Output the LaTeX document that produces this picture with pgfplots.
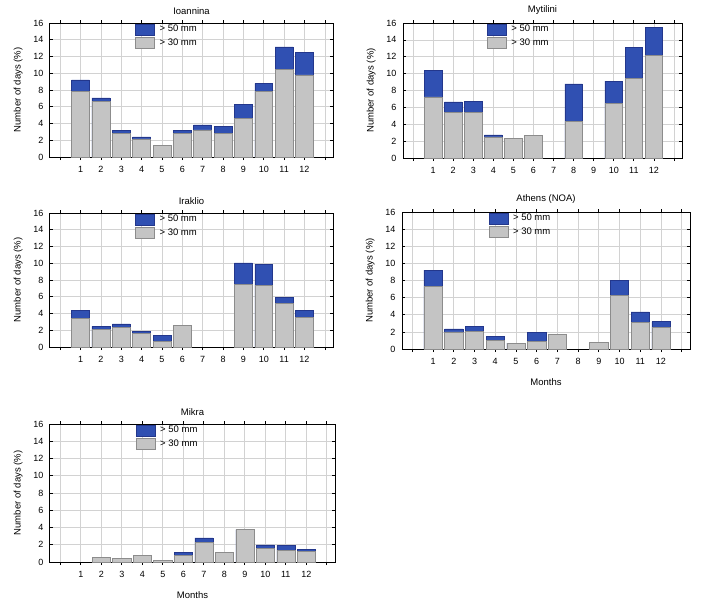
\documentclass[border=0pt]{standalone}
\usepackage{fontspec}
\setmainfont{Liberation Sans}
\usepackage{pgfplots}
\pgfplotsset{compat=1.18}
\definecolor{barblue}{RGB}{48,80,178}
\definecolor{bluedraw}{RGB}{35,55,140}
\definecolor{bargray}{RGB}{196,196,196}
\definecolor{graydraw}{RGB}{140,140,140}
\definecolor{gridc}{RGB}{210,210,210}
\pgfplotsset{
 swatch/.style={legend image code/.code={\draw[##1] (0pt,-5.5pt) rectangle (19pt,5.5pt);}},
 panel/.style={
  scale only axis,
  xmin=-0.5, xmax=13.4, ymin=0, ymax=16,
  xtick={0,...,13}, xticklabels={,1,2,3,4,5,6,7,8,9,10,11,12,},
  ytick={0,2,...,16},
  grid=major, major grid style={gridc, line width=0.7pt},
  tick align=inside, major tick length=3pt, tick style={black, line width=0.7pt},
  axis line style={line width=1pt},
  ybar, bar width=0.88, bar shift=0pt,
  tick label style={font=\fontsize{9}{10}\selectfont},
  xticklabel style={yshift=-3pt},
  yticklabel style={xshift=-3pt},
  /pgf/number format/assume math mode=true,
  ylabel={Number of days (\%)},
  ylabel style={font=\fontsize{9.5}{10}\selectfont, yshift=4pt},
  xlabel style={font=\fontsize{9.5}{10}\selectfont, yshift=-7pt},
  title style={font=\fontsize{9.5}{10}\selectfont, yshift=-1pt},
  legend style={at={(0.30,1)}, anchor=north west, draw=none, fill=none, inner sep=0pt,
    font=\fontsize{9.5}{10}\selectfont, row sep=1.5pt,
    /tikz/every odd column/.append style={column sep=3pt}},
  legend cell align=left,
 },
 bblue/.style={fill=barblue, draw=bluedraw, line width=0.5pt, swatch},
 bgray/.style={fill=bargray, draw=graydraw, line width=0.5pt, swatch},
}
\begin{document}
\begin{tikzpicture}
\path[use as bounding box] (0pt,0pt) rectangle (704pt,-603pt);
% Ioannina
\begin{axis}[panel, width=283pt, height=134pt, at={(50pt,-157pt)}, anchor=south west, title={Ioannina}]
\addplot[bblue] coordinates {(1,9.2) (2,7.05) (3,3.15) (4,2.4) (5,1.4) (6,3.15) (7,3.85) (8,3.7) (9,6.3) (10,8.8) (11,13.15) (12,12.5)};
\addplot[bgray] coordinates {(1,7.8) (2,6.6) (3,2.85) (4,2.15) (5,1.4) (6,2.85) (7,3.25) (8,2.85) (9,4.65) (10,7.8) (11,10.45) (12,9.8)};
\legend{> 50 mm, > 30 mm}
\end{axis}
% Mytilini
\begin{axis}[panel, width=279pt, height=135pt, at={(403pt,-158pt)}, anchor=south west, title={Mytilini}]
\addplot[bblue] coordinates {(1,10.4) (2,6.65) (3,6.75) (4,2.75) (5,2.35) (6,2.7) (8,8.8) (10,9.1) (11,13.15) (12,15.45)};
\addplot[bgray] coordinates {(1,7.25) (2,5.45) (3,5.45) (4,2.5) (5,2.35) (6,2.7) (8,4.3) (10,6.5) (11,9.4) (12,12.2)};
\legend{> 50 mm, > 30 mm}
\end{axis}
% Iraklio
\begin{axis}[panel, width=283pt, height=134pt, at={(50pt,-347pt)}, anchor=south west, title={Iraklio}]
\addplot[bblue] coordinates {(1,4.35) (2,2.45) (3,2.75) (4,1.9) (5,1.4) (6,2.55) (9,10.05) (10,9.9) (11,5.95) (12,4.35)};
\addplot[bgray] coordinates {(1,3.45) (2,2.15) (3,2.35) (4,1.65) (5,0.65) (6,2.55) (9,7.5) (10,7.4) (11,5.25) (12,3.5)};
\legend{> 50 mm, > 30 mm}
\end{axis}
% Athens
\begin{axis}[panel, width=288pt, height=137pt, at={(402pt,-349pt)}, anchor=south west, title={Athens (NOA)}, xlabel={Months}]
\addplot[bblue] coordinates {(1,9.2) (2,2.35) (3,2.6) (4,1.5) (5,0.7) (6,1.95) (7,1.7) (9,0.75) (10,8.05) (11,4.35) (12,3.2)};
\addplot[bgray] coordinates {(1,7.3) (2,2.0) (3,2.05) (4,1.05) (5,0.7) (6,0.9) (7,1.7) (9,0.75) (10,6.3) (11,3.1) (12,2.55)};
\legend{> 50 mm, > 30 mm}
\end{axis}
% Mikra
\begin{axis}[panel, width=285pt, height=138pt, at={(50pt,-562pt)}, anchor=south west, title={Mikra}, xlabel={Months}]
\addplot[bblue] coordinates {(2,0.55) (3,0.45) (4,0.75) (5,0.15) (6,1.1) (7,2.8) (8,1.15) (9,3.75) (10,2.0) (11,1.95) (12,1.45)};
\addplot[bgray] coordinates {(2,0.55) (3,0.45) (4,0.75) (5,0.15) (6,0.8) (7,2.3) (8,1.15) (9,3.75) (10,1.55) (11,1.35) (12,1.2)};
\legend{> 50 mm, > 30 mm}
\end{axis}
\end{tikzpicture}
\end{document}
